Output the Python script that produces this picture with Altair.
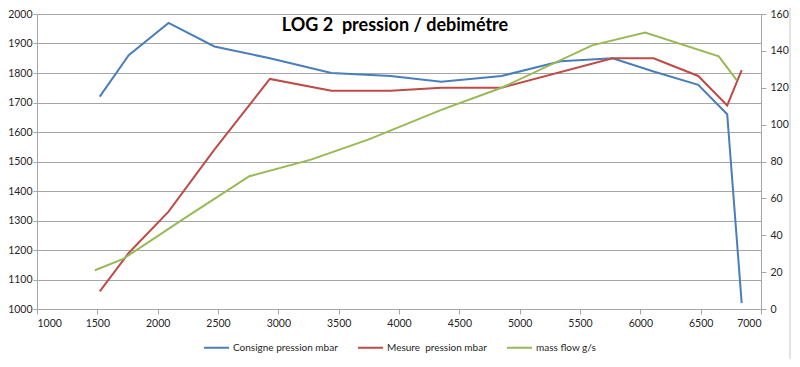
import altair as alt
import pandas as pd

TITLE = "LOG 2 \u00a0pression / debimétre"
SERIES = ["Consigne pression mbar", "Mesure \u00a0pression mbar", "mass flow g/s"]
COLORS = ["#4A7EBB", "#BE4B48", "#98B954"]

X_TICKS = [1000, 1500, 2000, 2500, 3000, 3500, 4000, 4500, 5000, 5500, 6000, 6500, 7000]
LEFT_TICKS = [1000, 1100, 1200, 1300, 1400, 1500, 1600, 1700, 1800, 1900, 2000]
RIGHT_TICKS = [0, 20, 40, 60, 80, 100, 120, 140, 160]

rpm_consigne = [1520, 1760, 2090, 2470, 2930, 3440, 3930, 4350, 4850, 5340, 5770, 6110, 6480, 6720, 6840]
consigne = [1720, 1860, 1970, 1890, 1850, 1800, 1790, 1770, 1790, 1840, 1850, 1805, 1760, 1660, 1020]

rpm_mesure = [1520, 1760, 2090, 2470, 2930, 3440, 3930, 4350, 4850, 5770, 6110, 6480, 6720, 6840]
mesure = [1060, 1190, 1330, 1540, 1780, 1740, 1740, 1750, 1750, 1850, 1850, 1790, 1690, 1810]

rpm_flow = [1480, 1710, 2240, 2760, 3270, 3750, 4350, 4850, 5600, 6040, 6650, 6800]
flow = [21, 27, 50, 72, 81, 92, 108, 120, 143, 150, 137, 124]

FONT = "Lato"
TEXT_COLOR = "#262626"
AXIS_GRAY = "#a6a6a6"

left_df = pd.concat([
    pd.DataFrame({"rpm": rpm_consigne, "value": consigne, "series": SERIES[0], "i": range(len(consigne))}),
    pd.DataFrame({"rpm": rpm_mesure, "value": mesure, "series": SERIES[1], "i": range(len(mesure))}),
])
right_df = pd.DataFrame({"rpm": rpm_flow, "value": flow, "series": SERIES[2], "i": range(len(flow))})

x_enc = alt.X(
    "rpm:Q",
    scale=alt.Scale(domain=[1000, 7000], nice=False, zero=False),
    axis=alt.Axis(values=X_TICKS, title=None, grid=False, format="d",
                  domainColor=AXIS_GRAY, tickColor=AXIS_GRAY, tickSize=5,
                  labelFont=FONT, labelFontSize=10.5, labelColor=TEXT_COLOR, labelPadding=4),
)

color_enc = alt.Color(
    "series:N",
    scale=alt.Scale(domain=SERIES, range=COLORS),
    legend=alt.Legend(
        orient="none", legendX=166, legendY=320, direction="horizontal", title=None,
        symbolType="stroke", symbolSize=625, symbolStrokeWidth=2,
        columnPadding=16, labelOffset=3,
        labelFont=FONT, labelFontSize=10, labelColor=TEXT_COLOR,
    ),
)

left = alt.Chart(left_df).mark_line(strokeWidth=2).encode(
    x=x_enc,
    y=alt.Y("value:Q",
            scale=alt.Scale(domain=[1000, 2000], nice=False, zero=False),
            axis=alt.Axis(values=LEFT_TICKS, title=None, orient="left", grid=True,
                          gridColor=AXIS_GRAY, domainColor=AXIS_GRAY, tickColor=AXIS_GRAY,
                          tickSize=4, format="d",
                          labelFont=FONT, labelFontSize=10.5, labelColor=TEXT_COLOR, labelPadding=1)),
    color=color_enc,
    order="i:Q",
)

right = alt.Chart(right_df).mark_line(strokeWidth=2).encode(
    x=x_enc,
    y=alt.Y("value:Q",
            scale=alt.Scale(domain=[0, 160], nice=False),
            axis=alt.Axis(values=RIGHT_TICKS, title=None, orient="right", grid=False,
                          domainColor=AXIS_GRAY, tickColor=AXIS_GRAY, tickSize=5, format="d",
                          labelFont=FONT, labelFontSize=10.5, labelColor=TEXT_COLOR, labelPadding=4)),
    color=color_enc,
    order="i:Q",
)

title = alt.Chart(pd.DataFrame({"t": [TITLE]})).mark_text(
    font=FONT, fontSize=18, fontWeight="bold", color="#000000", align="center", baseline="alphabetic"
).encode(text="t:N", x=alt.value(358), y=alt.value(17))

frame = alt.Chart(pd.DataFrame({"a": [0]})).mark_rect(
    fillOpacity=0, stroke="#c8c8c8", strokeWidth=1
).encode(x=alt.value(-45), x2=alt.value(753), y=alt.value(-12), y2=alt.value(349))

chart = alt.layer(frame, left, right, title).resolve_scale(y="independent").properties(
    width=724, height=295,
    autosize=alt.AutoSizeParams(type="none"),
    padding={"left": 29, "top": 6, "right": 30, "bottom": 50},
    background="white",
).configure_view(stroke=None)

chart.save("out.html", embed_options={"renderer": "svg", "actions": False})
